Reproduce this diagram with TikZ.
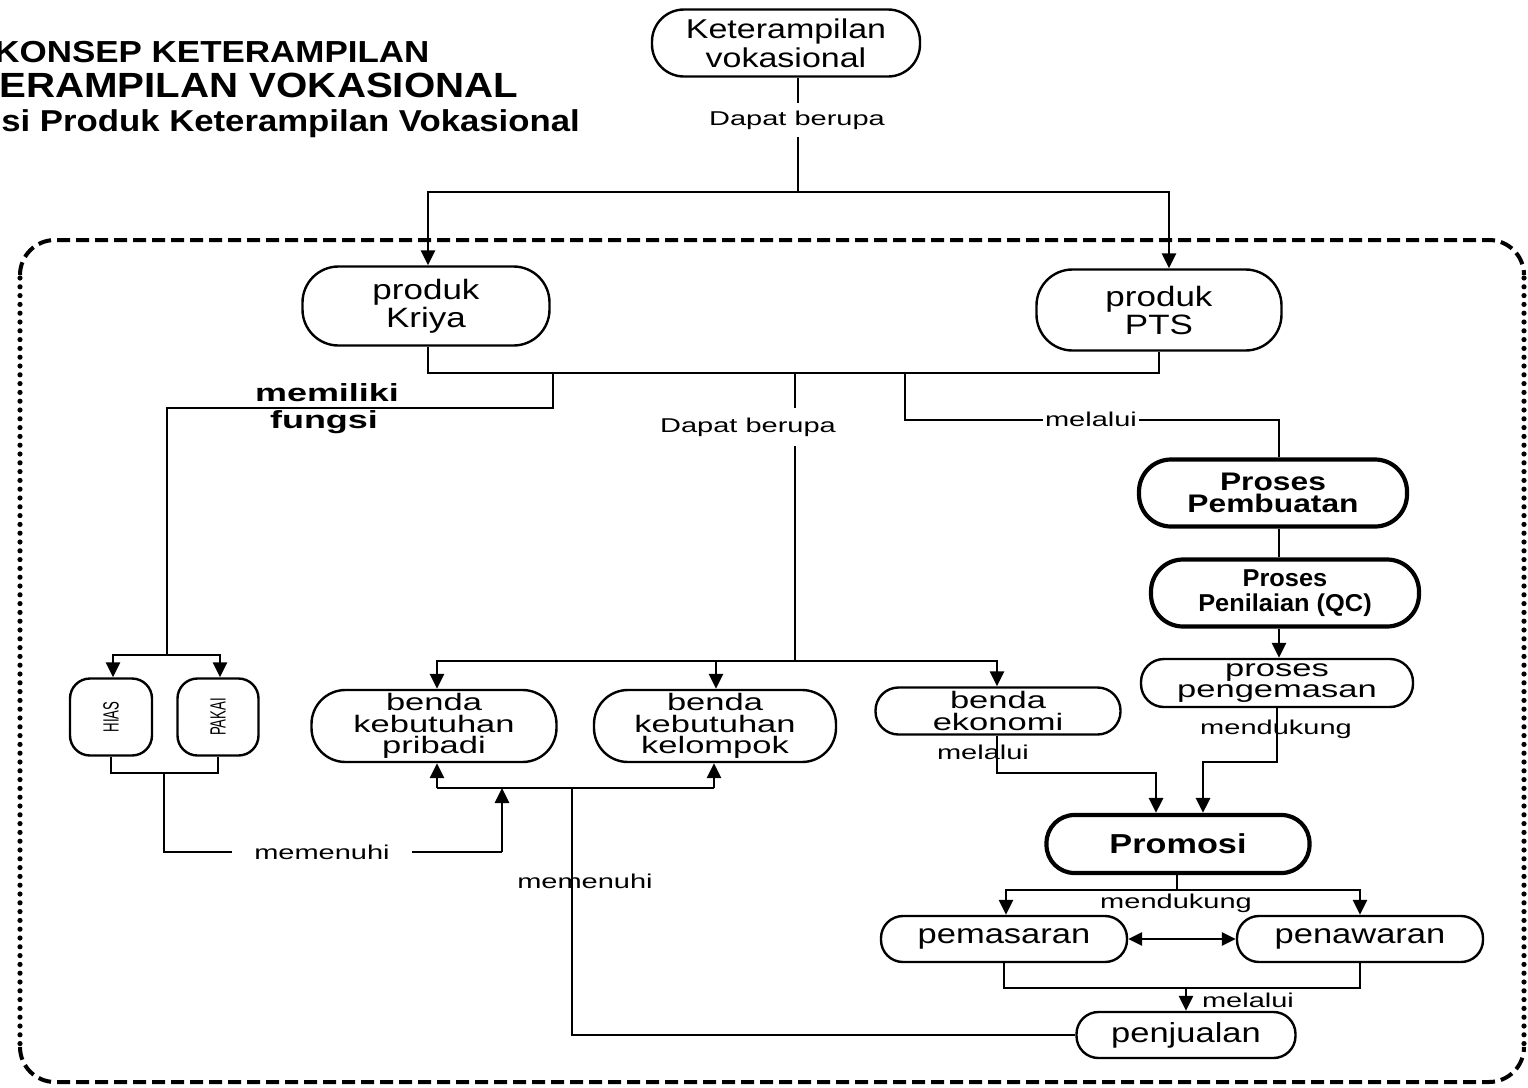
\documentclass[tikz,border=0pt]{standalone}
\usepackage{fontspec}
\setmainfont{Liberation Sans}[FakeStretch=1.25]
\newfontfamily\widefont{Liberation Sans}[FakeStretch=1.45]
\newfontfamily\titlefont{Liberation Sans}[FakeStretch=1.15]
\newfontfamily\qcfont{Liberation Sans}[FakeStretch=1.04]
\newfontfamily\narrowfont{Liberation Sans}[FakeStretch=0.6]
\usetikzlibrary{arrows.meta,calc}
\begin{document}
\begin{tikzpicture}[x=0.5pt,y=-0.5pt,
  conn/.style={line width=1.45pt},
  arr/.style={conn,-{Triangle[length=7.5pt,width=7pt]}},
  darr/.style={conn,{Triangle[length=7pt,width=6.5pt]}-{Triangle[length=7pt,width=6.5pt]}},
  pill/.style={draw,line width=1.2pt,align=center,inner sep=0pt},
  bpill/.style={pill,line width=2.1pt},
  widetext/.style={font=\widefont\fontsize{11.9}{10.9}\selectfont},
  onetext/.style={font=\fontsize{13.8}{14}\selectfont},
  lbl/.style={inner sep=1pt,font=\widefont\fontsize{10}{12}\selectfont},
  titletext/.style={anchor=base west,inner sep=0pt},
  dashframe/.style={line width=2pt,dash pattern=on 6.5pt off 3pt},
  dotframe/.style={line width=2.6pt,line cap=round,dash pattern=on 0pt off 4.4pt}
]
\useasboundingbox (0,0) rectangle (1528,1088);
\fill[white] (0,0) rectangle (1528,1088);

% title
\node[titletext,font=\titlefont\bfseries\fontsize{15.2}{15.2}\selectfont] (t1) at (-6,62) {KONSEP KETERAMPILAN};
\node[titletext,font=\titlefont\bfseries\fontsize{17.5}{17.5}\selectfont] (t2) at (-1,97) {ERAMPILAN VOKASIONAL};
\node[titletext,font=\titlefont\bfseries\fontsize{15.1}{15.1}\selectfont] (t3) at (1,131) {si Produk Keterampilan Vokasional};

% frame
\draw[dashframe,rounded corners=17.5pt] (20,275) -- (20,240) -- (1524,240) -- (1524,275);
\draw[dashframe,rounded corners=17.5pt] (20,1047) -- (20,1082) -- (1524,1082) -- (1524,1047);
\draw[dotframe] (20,278) -- (20,1044);
\draw[dotframe] (1524,278) -- (1524,1044);

% nodes
\node[pill,minimum width=134pt,minimum height=33.5pt,rounded corners=16pt,font=\fontsize{13.6}{14.5}\selectfont] (kv) at (786,43) {Keterampilan\\vokasional};
\node[pill,minimum width=123.5pt,minimum height=39.5pt,rounded corners=18pt,font=\fontsize{14}{14}\selectfont] (kriya) at (426,306) {produk\\Kriya};
\node[pill,minimum width=122.5pt,minimum height=40.5pt,rounded corners=18pt,font=\fontsize{14}{14}\selectfont] (pts) at (1159,310) {produk\\PTS};

\node[pill,minimum width=41pt,minimum height=38.5pt,rounded corners=10pt] (hias) at (111,717) {\rotatebox{90}{\narrowfont\fontsize{11}{11}\selectfont HIAS}};
\node[pill,minimum width=40.5pt,minimum height=38.5pt,rounded corners=10pt] (pakai) at (218,717) {\rotatebox{90}{\narrowfont\fontsize{11}{11}\selectfont PAKAI}};

\node[pill,widetext,minimum width=122.5pt,minimum height=36pt,rounded corners=17pt] (pribadi) at (434,726) {benda\\kebutuhan\\pribadi};
\node[pill,widetext,minimum width=121pt,minimum height=36pt,rounded corners=17pt] (kelompok) at (715,726) {benda\\kebutuhan\\kelompok};
\node[pill,minimum width=122.5pt,minimum height=23.5pt,rounded corners=11.5pt,font=\widefont\fontsize{11.9}{11}\selectfont] (ekonomi) at (998,711) {benda\\ekonomi};

\node[bpill,minimum width=134pt,minimum height=33.5pt,rounded corners=16pt,font=\bfseries\fontsize{12.7}{11.3}\selectfont] (pemb) at (1273,493) {Proses\\Pembuatan};
\node[bpill,minimum width=134pt,minimum height=33.5pt,rounded corners=16pt,font=\qcfont\bfseries\fontsize{12.2}{12.6}\selectfont] (qc) at (1285,593) {Proses\\Penilaian (QC)};
\node[pill,minimum width=136pt,minimum height=24pt,rounded corners=11.5pt,font=\widefont\fontsize{11.9}{10.8}\selectfont] (peng) at (1277,683) {proses\\pengemasan};

\node[bpill,minimum width=131.5pt,minimum height=29pt,rounded corners=14pt,font=\bfseries\fontsize{13.7}{14}\selectfont] (promo) at (1178,844) {Promosi};
\node[pill,onetext,minimum width=123pt,minimum height=23pt,rounded corners=11pt] (pemas) at (1004,939) {pemasaran};
\node[pill,onetext,minimum width=123pt,minimum height=23pt,rounded corners=11pt] (penaw) at (1360,939) {penawaran};
\node[pill,onetext,minimum width=109.5pt,minimum height=23pt,rounded corners=11pt] (penj) at (1186,1035) {penjualan};

% junction coordinates
\coordinate (j1) at (798,192);
\coordinate (bus) at (795,373);
\coordinate (lf) at (553,373);
\coordinate (lf2) at (553,408);
\coordinate (fork1) at (167,655);
\coordinate (fork2) at (795,661);
\coordinate (rf) at (905,373);
\coordinate (rf2) at (1279,420);
\coordinate (cx) at (1279,0);
\coordinate (p1) at (1277,762);
\coordinate (p2) at (1203,762);
\coordinate (pin) at (1156,0);
\coordinate (e1) at (997,773);
\coordinate (f3) at (1177,890);
\coordinate (f4) at (1186,988);
\coordinate (h1) at (437,788);
\coordinate (h2) at (714,788);
\coordinate (h3) at (502,788);
\coordinate (k1) at (164,773);
\coordinate (k2) at (164,852);
\coordinate (k3) at (502,852);
\coordinate (b1) at (572,1035);
\coordinate (b2) at (572,788);

% top connectors
\draw[conn] (kv.south -| j1) -- (j1);
\node[lbl,fill=white,inner ysep=4pt] (lb1) at (797,120) {Dapat berupa};
\draw[arr] (j1) -| (kriya.north -| 428,0);
\draw[arr] (j1) -| (pts.north -| 1169,0);

% bus below products
\draw[conn] (kriya.south -| 428,0) -- (428,373) -- (1159,373) -- (pts.south);

% left branch
\draw[conn] (lf) -- (lf2) -| (fork1);
\node[inner sep=0pt,font=\widefont\bfseries\fontsize{12.4}{14}\selectfont] (lb2) at (327,393) {memiliki};
\node[inner sep=0pt,font=\widefont\bfseries\fontsize{12.4}{14}\selectfont] (lb3) at (324,422) {fungsi};
\draw[arr] (fork1) -| (hias.north -| 113,0);
\draw[arr] (fork1) -| (pakai.north -| 220,0);

% hias/pakai bottom -> memenuhi
\draw[conn] (hias.south) |- (k1) -| (pakai.south);
\draw[conn] (k1) -- (k2) -- (k3);
\draw[arr] (k3) -- (h3);
\node[lbl,fill=white,inner xsep=11pt] (lb4) at (322,852) {memenuhi};

% middle branch
\draw[conn] (bus) -- (fork2);
\node[lbl,fill=white,inner ysep=5pt] (lb5) at (748,427) {Dapat berupa};
\draw[conn] (437,661) -- (997,661);
\draw[arr] (fork2) -| (pribadi.north -| 437,0);
\draw[arr] (fork2) -| (kelompok.north -| 716,0);
\draw[arr] (fork2) -| (ekonomi.north -| 997,0);

% benda up arrows
\draw[conn] (h1) -- (h2);
\draw[arr] (h1) -- (pribadi.south -| h1);
\draw[arr] (h2) -- (kelompok.south -| h2);

% right branch
\draw[conn] (rf) -- (905,420) -- (rf2) -- (pemb.north -| cx);
\node[lbl,fill=white,inner xsep=1pt] (lb6) at (1091,419) {melalui};
\draw[conn] (pemb.south -| cx) -- (qc.north -| cx);
\draw[arr] (qc.south -| cx) -- (peng.north -| cx);
\draw[arr] (peng.south -| p1) -- (p1) -- (p2) -- (promo.north -| p2);
\node[lbl] (lb7) at (1276,729) {mendukung};

% ekonomi -> promosi
\draw[arr] (ekonomi.south -| e1) -- (e1) -| (promo.north -| pin);
\node[lbl] (lb8) at (983,752) {melalui};

% promosi -> pemasaran / penawaran
\draw[conn] (promo.south -| f3) -- (f3);
\draw[arr] (f3) -| (pemas.north -| 1006,0);
\draw[arr] (f3) -| (penaw.north);
\node[lbl] (lb9) at (1176,903) {mendukung};
\draw[darr] (pemas.east) -- (penaw.west);

% -> penjualan
\draw[conn] (pemas.south) -- (pemas.south |- f4) -- (penaw.south |- f4) -- (penaw.south);
\draw[arr] (f4) -- (penj.north -| f4);
\node[lbl] (lb10) at (1248,1000) {melalui};

% penjualan -> back
\draw[conn] (penj.west) -- (b1) -- (b2);
\node[lbl] (lb11) at (585,881) {memenuhi};
\end{tikzpicture}
\end{document}
